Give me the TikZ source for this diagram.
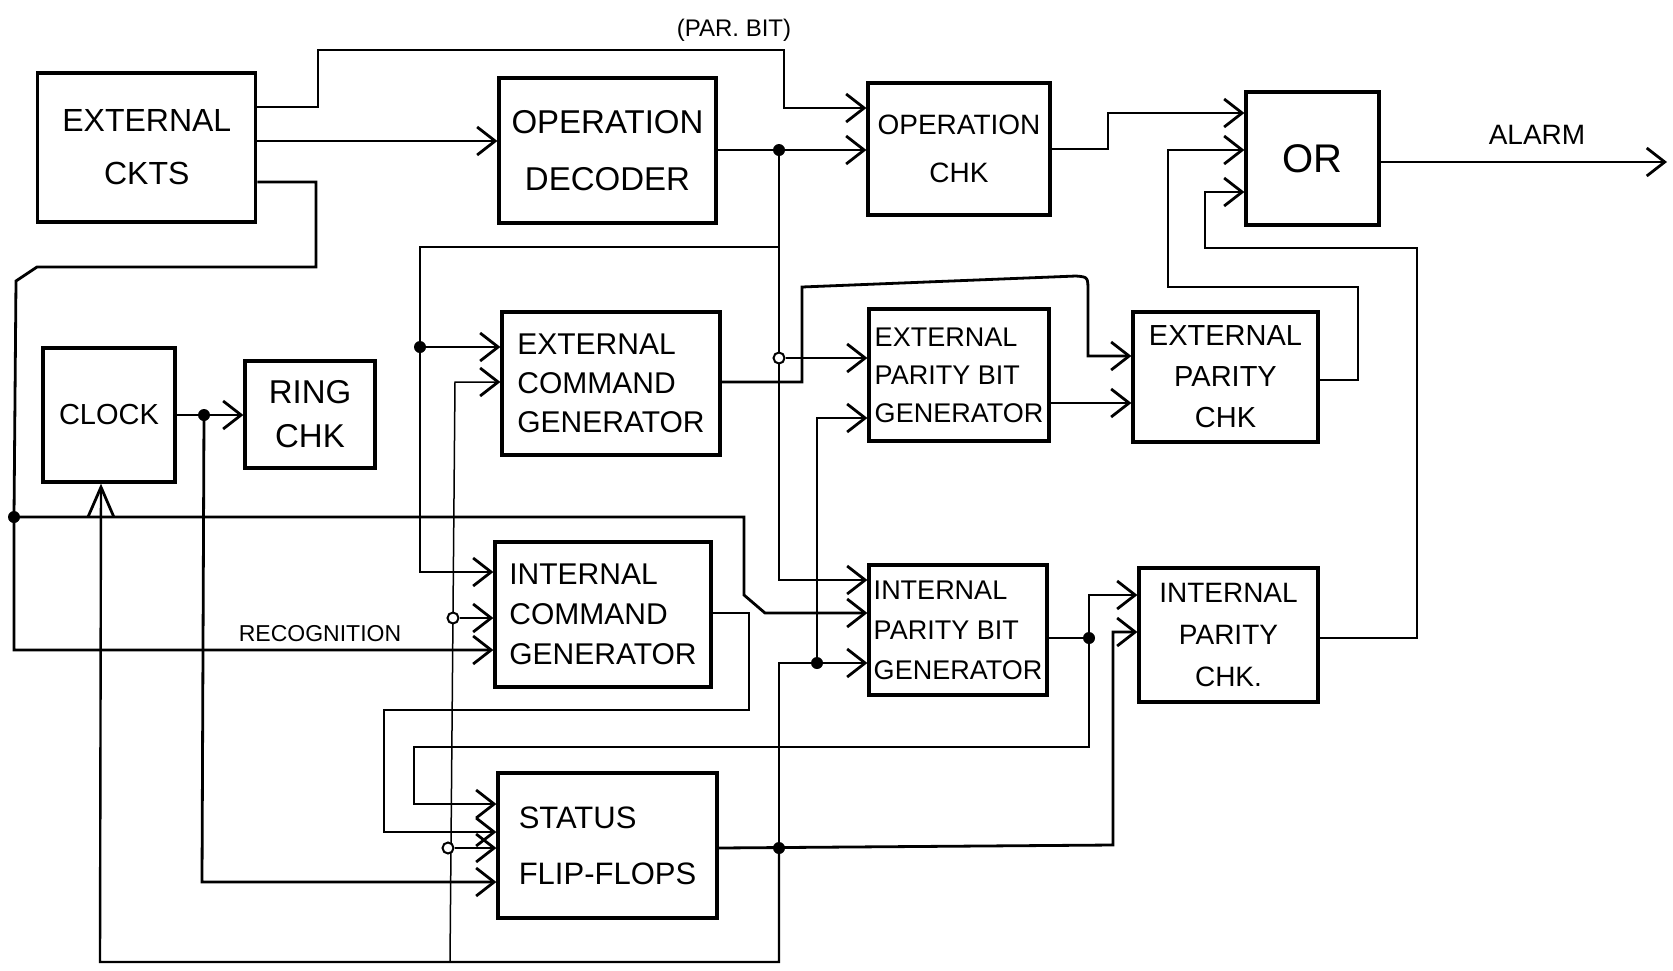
\documentclass[tikz,border=0pt]{standalone}
\usepackage{fontspec}
\setmainfont{Liberation Sans}
\usetikzlibrary{arrows.meta}
\newcommand\myfs[2]{\fontsize{#1}{#2}\selectfont}
\tikzset{
  box/.style={draw, rectangle, line width=3.2pt, inner sep=1pt},
  wire/.style={line width=2.8pt},
  arr/.style={line width=2.8pt, -{Straight Barb[length=18pt,width=28pt]}},
  thinarr/.style={line width=1.5pt, -{Straight Barb[length=18pt,width=28pt,line width=2.8pt]}},
  bigarr/.style={line width=2.4pt, -{Straight Barb[length=30pt,width=26pt,line width=2.8pt]}},
  dot/.style={circle, fill, inner sep=0pt, minimum size=12pt},
  odot/.style={circle, draw, fill=white, line width=2pt, inner sep=0pt, minimum size=11pt},
  lbl/.style={inner sep=0pt}
}
\begin{document}
\begin{tikzpicture}[x=1pt,y=-1pt]
\fill[white] (0,0) rectangle (1673,970);
\useasboundingbox (0,0) rectangle (1673,970);

% boxes
\node[box, minimum width=218pt, minimum height=149pt, font=\myfs{32}{53}, align=center] (extckts) at (146.8,147.5) {EXTERNAL\\CKTS};
\node[box, minimum width=217pt, minimum height=145pt, font=\myfs{33}{57}, align=center] (opdec) at (607.5,150.5) {OPERATION\\DECODER};
\node[box, minimum width=182pt, minimum height=132pt, font=\myfs{28}{48}, align=center] (opchk) at (959,149) {OPERATION\\CHK};
\node[box, minimum width=133pt, minimum height=133pt, font=\myfs{40}{48}] (orbox) at (1312.5,158.5) {OR};
\node[box, minimum width=132pt, minimum height=134pt, font=\myfs{29}{36}] (clock) at (109,415) {CLOCK};
\node[box, minimum width=130pt, minimum height=107pt, font=\myfs{33}{44}, align=center] (ring) at (310,414.5) {RING\\CHK};
\node[box, minimum width=218pt, minimum height=143pt, font=\myfs{30}{39}, align=left] (extcmd) at (611,383.5) {EXTERNAL\\COMMAND\\GENERATOR};
\node[box, minimum width=216pt, minimum height=145pt, font=\myfs{30}{40}, align=left] (intcmd) at (603,614.5) {INTERNAL\\COMMAND\\GENERATOR};
\node[box, minimum width=180pt, minimum height=132pt, font=\myfs{27}{38}, align=left] (extpbg) at (959,375) {EXTERNAL\\PARITY BIT\\GENERATOR};
\node[box, minimum width=178pt, minimum height=130pt, font=\myfs{27}{40}, align=left] (intpbg) at (958,630) {INTERNAL\\PARITY BIT\\GENERATOR};
\node[box, minimum width=185pt, minimum height=130pt, font=\myfs{29}{41}, align=center] (extpchk) at (1225.5,377) {EXTERNAL\\PARITY\\CHK};
\node[box, minimum width=179pt, minimum height=134pt, font=\myfs{28}{42}, align=center] (intpchk) at (1228.5,635) {INTERNAL\\PARITY\\CHK.};
\node[box, minimum width=219pt, minimum height=145pt, font=\myfs{31}{56}, align=left] (status) at (607.5,845.5) {STATUS\\FLIP-FLOPS};

% labels
\node[lbl, font=\myfs{24}{28}] (parbit) at (734,30) {(PAR. BIT)};
\node[lbl, font=\myfs{23}{28}] (recog) at (320,634) {RECOGNITION};
\node[lbl, font=\myfs{28}{32}] (alarm) at (1537,135) {ALARM};

% external ckts outputs
\draw[arr] (extckts.east |- 0,107) -- (318,107) -- (318,50) -- (784,50) -- (784,108) -- (opchk.west |- 0,108);
\draw[arr] (extckts.east |- 0,141) -- (opdec.west |- 0,141);
\node[dot] (dL) at (14,517) {};
\draw[arr] (extckts.east |- 0,182) -- (316,182) -- (316,267) -- (37,267) -- (16,281) -- (dL.center) -- (14,650) -- (intcmd.west |- 0,650);
\draw[arr] (dL.center) -- (744,517) -- (744,595) -- (765,613) -- (intpbg.west |- 0,613);

% operation decoder output
\node[dot] (dA) at (779,150) {};
\draw[arr] (opdec.east |- 0,150) -- (opchk.west |- 0,150);
\draw[arr] (dA.center) -- (779,580) -- (intpbg.west |- 0,580);
\coordinate (jA) at (779,247);
\node[dot] (dB) at (420,347) {};
\draw[arr] (jA) -- (420,247) -- (420,572) -- (intcmd.west |- 0,572);
\draw[arr] (dB.center) -- (extcmd.west |- dB);

% external command generator output
\draw[arr] (extcmd.east |- 0,382) -- (802,382) -- (802,287) -- (1076,276) .. controls (1088,277) .. (1088,292) -- (1088,356) -- (extpchk.west |- 0,356);
\node[odot] (oA) at (779,358) {};
\draw[arr] (oA) -- (extpbg.west |- oA);

% external parity bit generator / check
\draw[arr] (extpbg.east |- 0,403) -- (extpchk.west |- 0,403);
\draw[arr] (extpchk.east |- 0,380) -- (1358,380) -- (1358,287) -- (1168,287) -- (1168,150) -- (orbox.west |- 0,150);

% operation check, internal parity check to OR
\draw[arr] (opchk.east |- 0,149) -- (1108,149) -- (1108,113) -- (orbox.west |- 0,113);
\draw[arr] (intpchk.east |- 0,638) -- (1417,638) -- (1417,248) -- (1205,248) -- (1205,192) -- (orbox.west |- 0,192);
\coordinate (alarmend) at (1667,162);
\draw[arr] (orbox.east |- alarmend) -- (alarmend);

% clock
\node[dot] (dC) at (204,415) {};
\draw[arr] (clock.east |- 0,415) -- (ring.west |- 0,415);
\draw[arr] (dC.center) -- (202,882) -- (status.west |- 0,882);

% internal command generator output
\draw[arr] (intcmd.east |- 0,613) -- (749,613) -- (749,710) -- (384,710) -- (384,832) -- (status.west |- 0,832);

% internal parity bit generator output
\node[dot] (dD) at (1089,638) {};
\draw[wire] (intpbg.east |- dD) -- (dD.center);
\draw[arr] (dD.center) -- (1089,595) -- (intpchk.west |- 0,595);
\draw[arr] (dD.center) -- (1089,747) -- (414,747) -- (414,804) -- (status.west |- 0,804);

% status flip-flops output
\node[dot] (dE) at (779,848) {};
\node[dot] (dF) at (817,663) {};
\draw[arr] (status.east |- dE) -- (1113,845) -- (1113,632) -- (intpchk.west |- 0,632);
\draw[arr] (dE.center) -- (779,663) -- (intpbg.west |- 0,663);
\draw[arr] (dF.center) -- (817,418) -- (extpbg.west |- 0,418);
\draw[bigarr] (dE.center) -- (779,962) -- (100,962) -- (clock.south -| 101,0);

% thin feedback line
\draw[thinarr] (450,962) -- (455,382) -- (extcmd.west |- 0,382);
\node[odot] (oB) at (453,618) {};
\draw[arr] (oB) -- (intcmd.west |- oB);
\node[odot] (oC) at (448,848) {};
\draw[arr] (oC) -- (status.west |- oC);
\end{tikzpicture}
\end{document}
